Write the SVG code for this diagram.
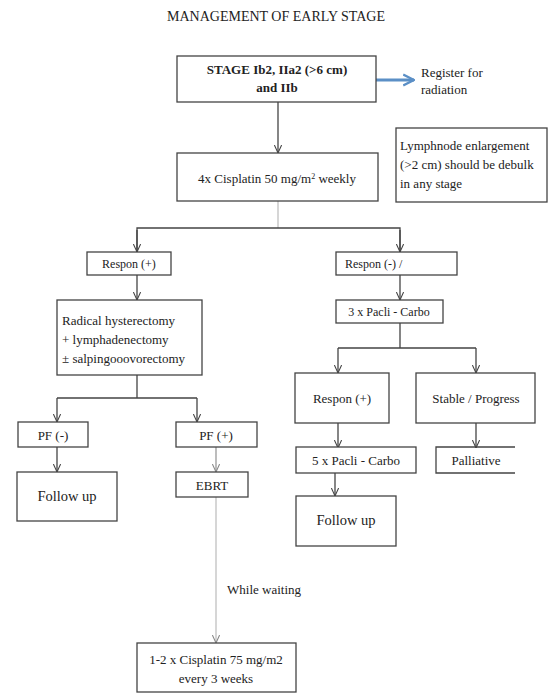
<svg xmlns="http://www.w3.org/2000/svg" width="554" height="694" viewBox="0 0 554 694">
<style>
text{font-family:'Liberation Serif','DejaVu Serif',serif;font-size:13px;fill:#222}
.c{text-anchor:middle}
.b{font-weight:bold}
.box{fill:#fff;stroke:#444;stroke-width:1.3}
.ln{fill:none;stroke:#444;stroke-width:1.3}
.lt{fill:none;stroke:#c8c8c8;stroke-width:1.5}
</style>
<defs>
<marker id="ar" viewBox="0 0 10 10" refX="10" refY="5" markerWidth="8" markerHeight="8" markerUnits="userSpaceOnUse" orient="auto">
<path d="M0,0.5 L10,5 L0,9.5" fill="none" stroke="#444" stroke-width="1.3"/>
</marker>
<marker id="arl" viewBox="0 0 10 10" refX="10" refY="5" markerWidth="8" markerHeight="8" markerUnits="userSpaceOnUse" orient="auto">
<path d="M0,0.5 L10,5 L0,9.5" fill="none" stroke="#888" stroke-width="1.3"/>
</marker>
<marker id="arb" viewBox="0 0 10 10" refX="9" refY="5" markerWidth="12" markerHeight="14" markerUnits="userSpaceOnUse" orient="auto">
<path d="M0,0.5 L9,5 L0,9.5" fill="none" stroke="#5b8fc6" stroke-width="2"/>
</marker>
</defs>
<rect width="554" height="694" fill="#fff"/>
<text id="title" x="276" y="21" class="c" style="font-size:14px" font-family="Liberation Serif, serif">MANAGEMENT OF EARLY STAGE</text>

<g id="connectors">
<line class="ln" x1="278" y1="102" x2="278" y2="153" marker-end="url(#ar)"/>
<line x1="376" y1="80" x2="414" y2="80" stroke="#5b8fc6" stroke-width="3" marker-end="url(#arb)"/>
<line class="lt" x1="278" y1="201" x2="278" y2="228"/>
<path class="ln" d="M137,252 V228 H400 V252" />
<line class="ln" x1="137" y1="230" x2="137" y2="252" marker-end="url(#ar)"/>
<line class="ln" x1="400" y1="230" x2="400" y2="252" marker-end="url(#ar)"/>
<line class="ln" x1="137" y1="275" x2="137" y2="300" marker-end="url(#ar)"/>
<path class="ln" d="M137,375 V398 M57,398 H197"/>
<line class="ln" x1="57" y1="398" x2="57" y2="422" marker-end="url(#ar)"/>
<line class="ln" x1="197" y1="398" x2="197" y2="422" marker-end="url(#ar)"/>
<line class="ln" x1="57" y1="447" x2="57" y2="472" marker-end="url(#ar)"/>
<line x1="216" y1="447" x2="216" y2="472" stroke="#999" stroke-width="1.3" marker-end="url(#arl)"/>
<line class="lt" x1="216" y1="497" x2="216" y2="643" marker-end="url(#arl)"/>
<line class="ln" x1="400" y1="275" x2="400" y2="300" marker-end="url(#ar)"/>
<path class="ln" d="M400,323 V348 M338,348 H476"/>
<line class="ln" x1="338" y1="348" x2="338" y2="373" marker-end="url(#ar)"/>
<line class="ln" x1="476" y1="348" x2="476" y2="373" marker-end="url(#ar)"/>
<line class="ln" x1="338" y1="423" x2="338" y2="448" marker-end="url(#ar)"/>
<line class="ln" x1="476" y1="423" x2="476" y2="448" marker-end="url(#ar)"/>
<line class="ln" x1="335" y1="473" x2="335" y2="496" marker-end="url(#ar)"/>
</g>

<g id="stage">
<rect class="box" x="177" y="56" width="199" height="46"/>
<text x="277" y="74" class="c b">STAGE Ib2, IIa2 (&gt;6 cm)</text>
<text x="277" y="92" class="c b">and IIb</text>
</g>
<g id="register">
<text x="421" y="77">Register for</text>
<text x="421" y="94">radiation</text>
</g>
<g id="cisplatin">
<rect class="box" x="177" y="153" width="201" height="48"/>
<text x="277" y="183" class="c">4x Cisplatin 50 mg/m<tspan baseline-shift="super" style="font-size:8px">2</tspan> weekly</text>
</g>
<g id="lymphnode">
<rect class="box" x="396" y="128" width="151" height="74"/>
<text x="400" y="150">Lymphnode enlargement</text>
<text x="400" y="169">(&gt;2 cm) should be debulk</text>
<text x="400" y="188">in any stage</text>
</g>
<g id="respon-pos">
<rect class="box" x="87" y="252" width="84" height="23"/>
<text x="129" y="268" class="c" style="font-size:12px">Respon (+)</text>
</g>
<g id="respon-neg">
<rect class="box" x="336" y="252" width="121" height="23"/>
<text x="345" y="268" style="font-size:12px">Respon (-) /</text>
</g>
<g id="radical">
<rect class="box" x="57" y="300" width="145" height="75"/>
<text x="62" y="325">Radical hysterectomy</text>
<text x="62" y="344">+ lymphadenectomy</text>
<text x="62" y="363">± salpingooovorectomy</text>
</g>
<g id="pacli3">
<rect class="box" x="336" y="300" width="107" height="23"/>
<text x="389" y="316" class="c" style="font-size:12px">3 x Pacli - Carbo</text>
</g>
<g id="pf-neg">
<rect class="box" x="18" y="422" width="70" height="25"/>
<text x="53" y="440" class="c">PF (-)</text>
</g>
<g id="pf-pos">
<rect class="box" x="176" y="422" width="81" height="25"/>
<text x="216" y="440" class="c">PF (+)</text>
</g>
<g id="respon-pos2">
<rect class="box" x="295" y="373" width="94" height="50"/>
<text x="342" y="403" class="c">Respon (+)</text>
</g>
<g id="stable">
<rect class="box" x="416" y="373" width="119" height="50"/>
<text x="476" y="403" class="c">Stable / Progress</text>
</g>
<g id="followup1">
<rect class="box" x="17" y="472" width="100" height="49"/>
<text x="67" y="501" class="c" style="font-size:14.5px">Follow up</text>
</g>
<g id="ebrt">
<rect class="box" x="176" y="472" width="72" height="25"/>
<text x="212" y="490" class="c">EBRT</text>
</g>
<g id="pacli5">
<rect class="box" x="296" y="447" width="120" height="26"/>
<text x="356" y="465" class="c">5 x Pacli - Carbo</text>
</g>
<g id="palliative">
<path class="ln" d="M515,447 H436 V473 H515"/>
<text x="476" y="465" class="c">Palliative</text>
</g>
<g id="followup2">
<rect class="box" x="296" y="496" width="100" height="50"/>
<text x="346" y="525" class="c" style="font-size:14.5px">Follow up</text>
</g>
<text id="waiting" x="227" y="594">While waiting</text>
<g id="cisplatin75">
<rect class="box" x="137" y="643" width="159" height="49"/>
<text x="216" y="664" class="c">1-2 x Cisplatin 75 mg/m2</text>
<text x="216" y="683" class="c">every 3 weeks</text>
</g>
</svg>
